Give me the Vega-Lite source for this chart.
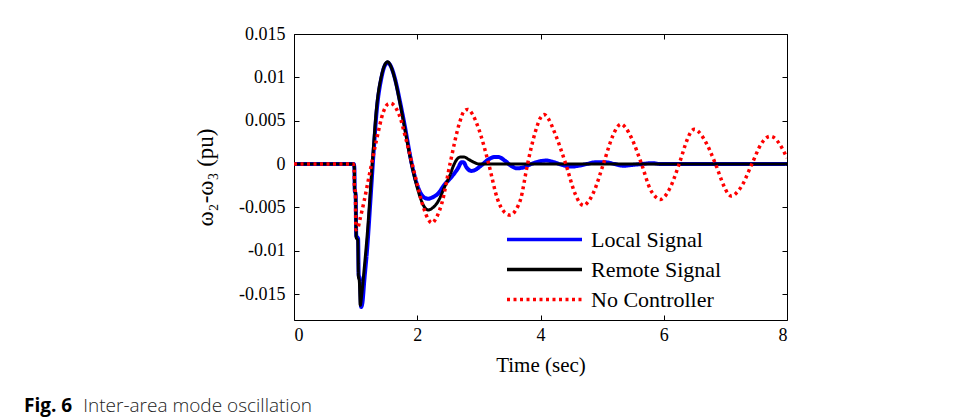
{
  "$schema": "https://vega.github.io/schema/vega-lite/v6.json",
  "width": 493,
  "height": 286,
  "autosize": {"type": "none"},
  "padding": {"left": 294, "top": 34, "right": 170, "bottom": 100},
  "background": "white",
  "config": {
    "view": {"stroke": "black", "strokeWidth": 1},
    "axis": {
      "grid": false,
      "domain": false,
      "tickColor": "black",
      "tickSize": -5,
      "tickWidth": 1,
      "labelColor": "black",
      "labelFont": "Liberation Serif",
      "labelFontSize": 18,
      "titleColor": "black",
      "titleFont": "Liberation Serif",
      "titleFontWeight": "normal"
    }
  },
  "title": {
    "text": "Fig. 6",
    "subtitle": "\u200b\u00a0\u00a0\u00a0\u00a0\u00a0\u00a0\u00a0\u00a0\u00a0\u00a0\u00a0\u00a0Inter-area mode oscillation",
    "orient": "bottom",
    "anchor": "start",
    "frame": "group",
    "dx": -270,
    "offset": 22,
    "font": "Open Sans",
    "fontSize": 19,
    "fontWeight": "bold",
    "color": "black",
    "subtitleFont": "Open Sans",
    "subtitleFontSize": 19,
    "subtitleFontWeight": 300,
    "subtitleColor": "#222222",
    "subtitlePadding": -19
  },
  "data": {
    "values": [
      {"s": "Local Signal", "t": 0, "v": 0},
      {"s": "Local Signal", "t": 0.97, "v": 0},
      {"s": "Local Signal", "t": 0.98, "v": -0.0005},
      {"s": "Local Signal", "t": 0.985, "v": -0.003},
      {"s": "Local Signal", "t": 1.0, "v": -0.0035},
      {"s": "Local Signal", "t": 1.01, "v": -0.0083},
      {"s": "Local Signal", "t": 1.04, "v": -0.0086},
      {"s": "Local Signal", "t": 1.05, "v": -0.0128},
      {"s": "Local Signal", "t": 1.07, "v": -0.0133},
      {"s": "Local Signal", "t": 1.09, "v": -0.0165},
      {"s": "Local Signal", "t": 1.11, "v": -0.016},
      {"s": "Local Signal", "t": 1.14, "v": -0.0135},
      {"s": "Local Signal", "t": 1.19, "v": -0.0095},
      {"s": "Local Signal", "t": 1.24, "v": -0.0042},
      {"s": "Local Signal", "t": 1.29, "v": 0.0012},
      {"s": "Local Signal", "t": 1.34, "v": 0.006},
      {"s": "Local Signal", "t": 1.42, "v": 0.01},
      {"s": "Local Signal", "t": 1.47, "v": 0.0113},
      {"s": "Local Signal", "t": 1.52, "v": 0.0117},
      {"s": "Local Signal", "t": 1.57, "v": 0.0113},
      {"s": "Local Signal", "t": 1.64, "v": 0.0098},
      {"s": "Local Signal", "t": 1.72, "v": 0.0072},
      {"s": "Local Signal", "t": 1.8, "v": 0.0043},
      {"s": "Local Signal", "t": 1.9, "v": 0.0004},
      {"s": "Local Signal", "t": 1.98, "v": -0.002},
      {"s": "Local Signal", "t": 2.05, "v": -0.0033},
      {"s": "Local Signal", "t": 2.12, "v": -0.0039},
      {"s": "Local Signal", "t": 2.18, "v": -0.004},
      {"s": "Local Signal", "t": 2.26, "v": -0.0038},
      {"s": "Local Signal", "t": 2.34, "v": -0.0034},
      {"s": "Local Signal", "t": 2.44, "v": -0.0024},
      {"s": "Local Signal", "t": 2.53, "v": -0.0017},
      {"s": "Local Signal", "t": 2.6, "v": -0.0011},
      {"s": "Local Signal", "t": 2.66, "v": -0.0005},
      {"s": "Local Signal", "t": 2.72, "v": 0.0002},
      {"s": "Local Signal", "t": 2.75, "v": 0.0002},
      {"s": "Local Signal", "t": 2.8, "v": -0.0004},
      {"s": "Local Signal", "t": 2.88, "v": -0.0008},
      {"s": "Local Signal", "t": 2.96, "v": -0.0006},
      {"s": "Local Signal", "t": 3.05, "v": -0.0001},
      {"s": "Local Signal", "t": 3.15, "v": 0.0005},
      {"s": "Local Signal", "t": 3.25, "v": 0.0008},
      {"s": "Local Signal", "t": 3.32, "v": 0.0008},
      {"s": "Local Signal", "t": 3.42, "v": 0.0004},
      {"s": "Local Signal", "t": 3.52, "v": -0.0002},
      {"s": "Local Signal", "t": 3.62, "v": -0.0005},
      {"s": "Local Signal", "t": 3.72, "v": -0.0004},
      {"s": "Local Signal", "t": 3.85, "v": 0.0},
      {"s": "Local Signal", "t": 3.98, "v": 0.0003},
      {"s": "Local Signal", "t": 4.1, "v": 0.0004},
      {"s": "Local Signal", "t": 4.22, "v": 0.0002},
      {"s": "Local Signal", "t": 4.35, "v": -0.0001},
      {"s": "Local Signal", "t": 4.5, "v": -0.0003},
      {"s": "Local Signal", "t": 4.62, "v": -0.0002},
      {"s": "Local Signal", "t": 4.75, "v": 0.0},
      {"s": "Local Signal", "t": 4.9, "v": 0.0002},
      {"s": "Local Signal", "t": 5.05, "v": 0.0002},
      {"s": "Local Signal", "t": 5.2, "v": 0.0},
      {"s": "Local Signal", "t": 5.35, "v": -0.0002},
      {"s": "Local Signal", "t": 5.5, "v": -0.0001},
      {"s": "Local Signal", "t": 5.65, "v": 0.0},
      {"s": "Local Signal", "t": 5.8, "v": 0.0001},
      {"s": "Local Signal", "t": 5.95, "v": 0.0},
      {"s": "Local Signal", "t": 8, "v": 0},

      {"s": "Remote Signal", "t": 0, "v": 0},
      {"s": "Remote Signal", "t": 0.97, "v": 0},
      {"s": "Remote Signal", "t": 0.98, "v": -0.0005},
      {"s": "Remote Signal", "t": 0.985, "v": -0.003},
      {"s": "Remote Signal", "t": 1.0, "v": -0.0035},
      {"s": "Remote Signal", "t": 1.01, "v": -0.0085},
      {"s": "Remote Signal", "t": 1.035, "v": -0.0088},
      {"s": "Remote Signal", "t": 1.045, "v": -0.013},
      {"s": "Remote Signal", "t": 1.06, "v": -0.0135},
      {"s": "Remote Signal", "t": 1.075, "v": -0.0163},
      {"s": "Remote Signal", "t": 1.1, "v": -0.015},
      {"s": "Remote Signal", "t": 1.14, "v": -0.012},
      {"s": "Remote Signal", "t": 1.19, "v": -0.008},
      {"s": "Remote Signal", "t": 1.24, "v": -0.003},
      {"s": "Remote Signal", "t": 1.29, "v": 0.002},
      {"s": "Remote Signal", "t": 1.34, "v": 0.0065},
      {"s": "Remote Signal", "t": 1.42, "v": 0.0102},
      {"s": "Remote Signal", "t": 1.47, "v": 0.0114},
      {"s": "Remote Signal", "t": 1.52, "v": 0.0118},
      {"s": "Remote Signal", "t": 1.57, "v": 0.0113},
      {"s": "Remote Signal", "t": 1.64, "v": 0.0097},
      {"s": "Remote Signal", "t": 1.72, "v": 0.007},
      {"s": "Remote Signal", "t": 1.8, "v": 0.004},
      {"s": "Remote Signal", "t": 1.9, "v": 0.0002},
      {"s": "Remote Signal", "t": 1.98, "v": -0.0022},
      {"s": "Remote Signal", "t": 2.05, "v": -0.0039},
      {"s": "Remote Signal", "t": 2.12, "v": -0.005},
      {"s": "Remote Signal", "t": 2.18, "v": -0.0053},
      {"s": "Remote Signal", "t": 2.26, "v": -0.005},
      {"s": "Remote Signal", "t": 2.34, "v": -0.0043},
      {"s": "Remote Signal", "t": 2.44, "v": -0.0027},
      {"s": "Remote Signal", "t": 2.53, "v": -0.0013},
      {"s": "Remote Signal", "t": 2.6, "v": 0.0},
      {"s": "Remote Signal", "t": 2.65, "v": 0.0006},
      {"s": "Remote Signal", "t": 2.7, "v": 0.0008},
      {"s": "Remote Signal", "t": 2.76, "v": 0.0008},
      {"s": "Remote Signal", "t": 2.84, "v": 0.0005},
      {"s": "Remote Signal", "t": 2.92, "v": 0.0002},
      {"s": "Remote Signal", "t": 3.0, "v": 0.0},
      {"s": "Remote Signal", "t": 8, "v": 0},

      {"s": "No Controller", "t": 0, "v": 0},
      {"s": "No Controller", "t": 0.96, "v": 0},
      {"s": "No Controller", "t": 0.975, "v": -0.0005},
      {"s": "No Controller", "t": 0.98, "v": -0.0028},
      {"s": "No Controller", "t": 0.995, "v": -0.0032},
      {"s": "No Controller", "t": 1.005, "v": -0.0076},
      {"s": "No Controller", "t": 1.03, "v": -0.0075},
      {"s": "No Controller", "t": 1.07, "v": -0.0064},
      {"s": "No Controller", "t": 1.14, "v": -0.0042},
      {"s": "No Controller", "t": 1.23, "v": -0.001},
      {"s": "No Controller", "t": 1.34, "v": 0.0028},
      {"s": "No Controller", "t": 1.45, "v": 0.006},
      {"s": "No Controller", "t": 1.52, "v": 0.0069},
      {"s": "No Controller", "t": 1.57, "v": 0.007},
      {"s": "No Controller", "t": 1.63, "v": 0.0067},
      {"s": "No Controller", "t": 1.7, "v": 0.0058},
      {"s": "No Controller", "t": 1.83, "v": 0.0025},
      {"s": "No Controller", "t": 1.97, "v": -0.0015},
      {"s": "No Controller", "t": 2.1, "v": -0.005},
      {"s": "No Controller", "t": 2.18, "v": -0.0064},
      {"s": "No Controller", "t": 2.24, "v": -0.0068},
      {"s": "No Controller", "t": 2.31, "v": -0.0062},
      {"s": "No Controller", "t": 2.4, "v": -0.0045},
      {"s": "No Controller", "t": 2.54, "v": 0.0003},
      {"s": "No Controller", "t": 2.68, "v": 0.0046},
      {"s": "No Controller", "t": 2.76, "v": 0.0061},
      {"s": "No Controller", "t": 2.82, "v": 0.0063},
      {"s": "No Controller", "t": 2.9, "v": 0.0057},
      {"s": "No Controller", "t": 3.0, "v": 0.004},
      {"s": "No Controller", "t": 3.16, "v": 0.0},
      {"s": "No Controller", "t": 3.3, "v": -0.004},
      {"s": "No Controller", "t": 3.42, "v": -0.0056},
      {"s": "No Controller", "t": 3.51, "v": -0.0059},
      {"s": "No Controller", "t": 3.6, "v": -0.0053},
      {"s": "No Controller", "t": 3.68, "v": -0.004},
      {"s": "No Controller", "t": 3.79, "v": 0.0},
      {"s": "No Controller", "t": 3.92, "v": 0.0038},
      {"s": "No Controller", "t": 3.99, "v": 0.0052},
      {"s": "No Controller", "t": 4.06, "v": 0.0057},
      {"s": "No Controller", "t": 4.13, "v": 0.0052},
      {"s": "No Controller", "t": 4.22, "v": 0.0038},
      {"s": "No Controller", "t": 4.41, "v": 0.0},
      {"s": "No Controller", "t": 4.56, "v": -0.0034},
      {"s": "No Controller", "t": 4.64, "v": -0.0045},
      {"s": "No Controller", "t": 4.7, "v": -0.0048},
      {"s": "No Controller", "t": 4.77, "v": -0.0044},
      {"s": "No Controller", "t": 4.86, "v": -0.0033},
      {"s": "No Controller", "t": 5.02, "v": 0.0},
      {"s": "No Controller", "t": 5.17, "v": 0.0032},
      {"s": "No Controller", "t": 5.24, "v": 0.0042},
      {"s": "No Controller", "t": 5.31, "v": 0.0046},
      {"s": "No Controller", "t": 5.38, "v": 0.0042},
      {"s": "No Controller", "t": 5.47, "v": 0.0031},
      {"s": "No Controller", "t": 5.64, "v": 0.0},
      {"s": "No Controller", "t": 5.78, "v": -0.0029},
      {"s": "No Controller", "t": 5.87, "v": -0.0038},
      {"s": "No Controller", "t": 5.94, "v": -0.0041},
      {"s": "No Controller", "t": 6.01, "v": -0.0038},
      {"s": "No Controller", "t": 6.1, "v": -0.0028},
      {"s": "No Controller", "t": 6.25, "v": 0.0},
      {"s": "No Controller", "t": 6.38, "v": 0.0028},
      {"s": "No Controller", "t": 6.44, "v": 0.0037},
      {"s": "No Controller", "t": 6.5, "v": 0.004},
      {"s": "No Controller", "t": 6.57, "v": 0.0037},
      {"s": "No Controller", "t": 6.66, "v": 0.0028},
      {"s": "No Controller", "t": 6.84, "v": 0.0},
      {"s": "No Controller", "t": 6.98, "v": -0.0026},
      {"s": "No Controller", "t": 7.04, "v": -0.0034},
      {"s": "No Controller", "t": 7.1, "v": -0.0037},
      {"s": "No Controller", "t": 7.17, "v": -0.0034},
      {"s": "No Controller", "t": 7.26, "v": -0.0026},
      {"s": "No Controller", "t": 7.43, "v": 0.0},
      {"s": "No Controller", "t": 7.58, "v": 0.0023},
      {"s": "No Controller", "t": 7.66, "v": 0.003},
      {"s": "No Controller", "t": 7.73, "v": 0.0032},
      {"s": "No Controller", "t": 7.8, "v": 0.003},
      {"s": "No Controller", "t": 7.88, "v": 0.0023},
      {"s": "No Controller", "t": 8.0, "v": 0.0007}
    ]
  },
  "resolve": {"axis": {"x": "independent", "y": "independent"}},
  "layer": [
    {
      "transform": [{"filter": "datum.s === 'Local Signal'"}],
      "mark": {"type": "line", "strokeWidth": 4, "interpolate": "monotone", "clip": true},
      "encoding": {
        "x": {
          "field": "t", "type": "quantitative",
          "scale": {"domain": [0, 8], "nice": false, "zero": false},
          "axis": {"orient": "bottom", "values": [0, 2, 4, 6, 8], "title": "Time (sec)", "titleFontSize": 21, "labelPadding": 11, "titlePadding": 10}
        },
        "y": {
          "field": "v", "type": "quantitative",
          "scale": {"domain": [-0.018, 0.015], "nice": false, "zero": false},
          "axis": {
            "orient": "left",
            "values": [-0.015, -0.01, -0.005, 0, 0.005, 0.01, 0.015],
            "labelExpr": "replace(format(datum.value, '~g'), '\u2212', '-')",
            "labelPadding": 14,
            "title": "ω₂-ω₃ (pu)",
            "titleFontSize": 23,
            "titleX": -89,
            "titleBaseline": "middle",
            "titleAlign": "center"
          }
        },
        "color": {
          "field": "s", "type": "nominal",
          "scale": {"domain": ["Local Signal", "Remote Signal", "No Controller"], "range": ["#0000ff", "#000000", "#ff0000"]},
          "legend": {
            "title": null,
            "orient": "none",
            "legendX": 211,
            "legendY": 191,
            "padding": 0,
            "symbolType": "M-1,0H5",
            "symbolSize": 625,
            "symbolStrokeWidth": 3.5,
            "labelOffset": 57,
            "labelFont": "Liberation Serif",
            "labelFontSize": 22,
            "labelColor": "black",
            "rowPadding": 4
          }
        },
        "strokeDash": {
          "field": "s", "type": "nominal",
          "scale": {"domain": ["Local Signal", "Remote Signal", "No Controller"], "range": [[1, 0], [1, 0], [3, 3.5]]},
          "legend": {
            "title": null,
            "orient": "none",
            "legendX": 211,
            "legendY": 191,
            "padding": 0,
            "symbolType": "M-1,0H5",
            "symbolSize": 625,
            "symbolStrokeWidth": 3.5,
            "labelOffset": 57,
            "labelFont": "Liberation Serif",
            "labelFontSize": 22,
            "labelColor": "black",
            "rowPadding": 4
          }
        }
      }
    },
    {
      "transform": [{"filter": "datum.s === 'Remote Signal'"}],
      "mark": {"type": "line", "strokeWidth": 3, "interpolate": "monotone", "clip": true},
      "encoding": {
        "x": {"field": "t", "type": "quantitative", "axis": null},
        "y": {"field": "v", "type": "quantitative", "axis": null},
        "color": {"field": "s", "type": "nominal"},
        "strokeDash": {"field": "s", "type": "nominal"}
      }
    },
    {
      "transform": [{"filter": "datum.s === 'No Controller'"}],
      "mark": {"type": "line", "strokeWidth": 3.5, "interpolate": "monotone", "clip": true},
      "encoding": {
        "x": {"field": "t", "type": "quantitative", "axis": {"orient": "top", "values": [0, 2, 4, 6, 8], "labels": false, "title": null}},
        "y": {"field": "v", "type": "quantitative", "axis": {"orient": "right", "values": [-0.015, -0.01, -0.005, 0, 0.005, 0.01, 0.015], "labels": false, "title": null}},
        "color": {"field": "s", "type": "nominal"},
        "strokeDash": {"field": "s", "type": "nominal"}
      }
    }
  ]
}
